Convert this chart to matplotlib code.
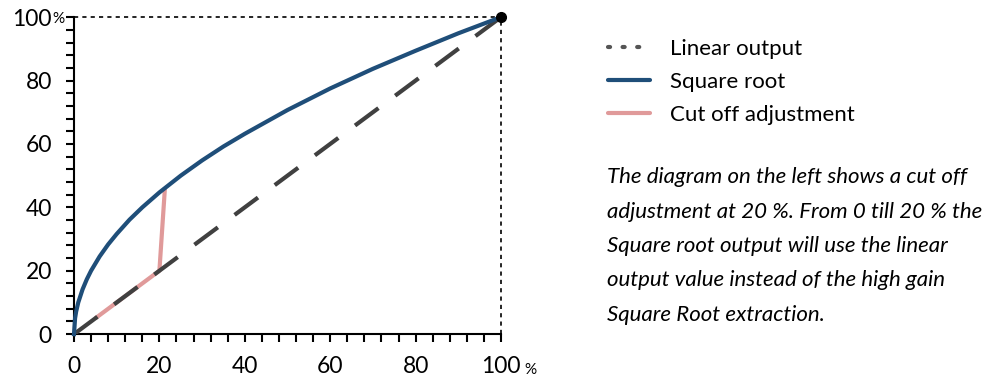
import matplotlib.pyplot as plt
from matplotlib.lines import Line2D

plt.rcParams['font.family'] = ['Lato', 'DejaVu Sans']

# values
lin_x = [0, 100]
lin_y = [0, 100]
sqrt_x = [0, 0.25, 0.5, 1, 2, 3, 4, 6, 8, 10, 13, 16, 20, 25, 30, 35, 40,
          50, 60, 70, 80, 90, 100]
sqrt_y = [0, 5, 7.1, 10, 14.1, 17.3, 20, 24.5, 28.3, 31.6, 36.1, 40, 44.7,
          50, 54.8, 59.2, 63.2, 70.7, 77.5, 83.7, 89.4, 94.9, 100]
cut_x = [5, 20, 21.3]
cut_y = [5, 20, 46.2]
ticks = [0, 20, 40, 60, 80, 100]
tick_labels = ['0', '20', '40', '60', '80', '100']

blue = '#1f4e79'
gray = '#404040'
pink = '#e09a9a'

fig = plt.figure(figsize=(10, 3.81), dpi=100)
ax = fig.add_axes([0.074, 0.123, 0.427, 0.832])

# reference box lines at the top and right
ax.plot([0, 100], [100, 100], color='black', lw=1.2, ls=(0, (2.5, 2.5)), clip_on=False)
ax.plot([100, 100], [0, 100], color='black', lw=1.2, ls=(0, (2.5, 2.5)), clip_on=False)

ax.plot(cut_x, cut_y, color=pink, lw=3, solid_capstyle='butt', zorder=2)
ax.plot(lin_x, lin_y, color=gray, lw=3, dashes=(7, 5), zorder=3)
ax.plot(sqrt_x, sqrt_y, color=blue, lw=3, zorder=4, clip_on=False)
ax.plot([100], [100], 'o', color='black', ms=7, zorder=5, clip_on=False)

ax.set_xlim(0, 100)
ax.set_ylim(0, 100)
ax.set_xticks(ticks)
ax.set_xticklabels(tick_labels)
ax.set_yticks(ticks)
ax.set_yticklabels(tick_labels)
ax.set_xticks(range(0, 101, 4), minor=True)
ax.set_yticks(range(0, 101, 4), minor=True)
ax.tick_params(which='both', direction='out', length=6, width=1.5, color='black')
ax.tick_params(which='major', labelsize=16.5, pad=10)

for s in ['top', 'right']:
    ax.spines[s].set_visible(False)
for s in ['left', 'bottom']:
    ax.spines[s].set_linewidth(1.5)

# small percent signs after the 100 labels
fig.text(0.052, 0.951, '%', fontsize=11, ha='left', va='center')
fig.text(0.524, 0.029, '%', fontsize=11, ha='left', va='center')

handles = [
    Line2D([], [], color='#555555', lw=3, dashes=(0.5, 3.0), dash_capstyle='round'),
    Line2D([], [], color=blue, lw=3, solid_capstyle='round'),
    Line2D([], [], color=pink, lw=3, solid_capstyle='round'),
]
labels = ['Linear output', 'Square root', 'Cut off adjustment']
fig.legend(handles, labels, loc='upper left', bbox_to_anchor=(0.608, 0.897),
           frameon=False, fontsize=16, handlelength=1.9, handletextpad=0.9,
           labelspacing=0.57, borderpad=0, borderaxespad=0)

note = ('The diagram on the left shows a cut off\n'
        'adjustment at 20 %. From 0 till 20 % the\n'
        'Square root output will use the linear\n'
        'output value instead of the high gain\n'
        'Square Root extraction.')
fig.text(0.607, 0.561, note, fontsize=16, style='italic', ha='left', va='top',
         linespacing=1.9)

fig.savefig('out.png', dpi=100)
